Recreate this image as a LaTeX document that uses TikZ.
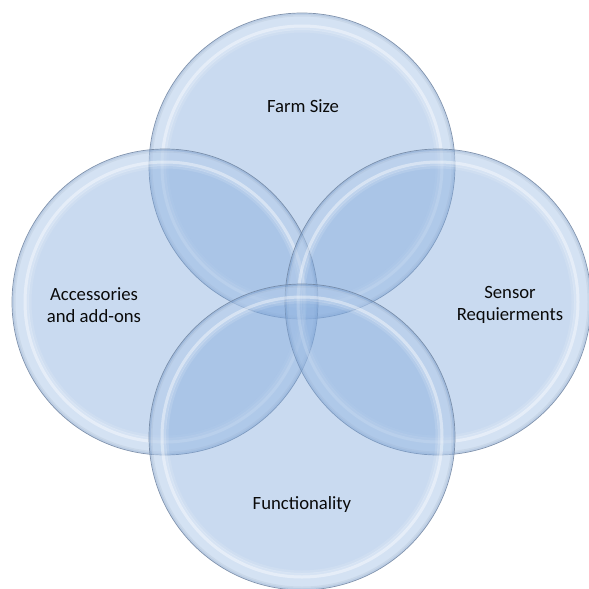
\documentclass[tikz,border=0pt]{standalone}
\usepackage{fontspec}
\setmainfont{Carlito}
\definecolor{bubblefill}{RGB}{126,167,219}
\definecolor{bubbleedge}{RGB}{112,132,160}
\definecolor{captiontext}{RGB}{10,10,10}
\begin{document}
\begin{tikzpicture}[x=1pt,y=-1pt,
  bubble/.style={circle, minimum size=306pt, inner sep=0pt,
    fill=bubblefill, fill opacity=0.42,
    draw=bubbleedge, draw opacity=0.85, line width=0.7pt},
  bubbletext/.style={font=\fontsize{18.7}{22}\selectfont, text=captiontext, align=center}]
% glossy rim drawn inside each bubble
\newcommand\glossrim[1]{%
  \draw[bubbleedge, opacity=0.15, line width=3pt] (#1.center) circle[radius=151];
  \draw[white, opacity=0.22, line width=12pt] (#1.center) circle[radius=145];
  \draw[white, opacity=0.40, line width=3pt] (#1.center) circle[radius=140];
  \draw[white, opacity=0.25, line width=3pt] (#1.center) circle[radius=137.5];
  \draw[white, opacity=0.12, line width=3pt] (#1.center) circle[radius=135];
}
\useasboundingbox (0,0) rectangle (589,589);

\node[bubble] (farm)  at (302,166) {};
\glossrim{farm}
\node[bubble] (acc)   at (165,302) {};
\glossrim{acc}
\node[bubble] (sensor) at (438,302) {};
\glossrim{sensor}
\node[bubble] (func)  at (302,437) {};
\glossrim{func}

\node[bubbletext] (farmtxt)   at (303,106) {Farm Size};
\node[bubbletext] (acctxt)    at (94,305)  {Accessories\\and add-ons};
\node[bubbletext] (sensortxt) at (510,305) {Sensor\\Requierments};
\node[bubbletext] (functxt)   at (302,505) {Functionality};
\end{tikzpicture}
\end{document}
